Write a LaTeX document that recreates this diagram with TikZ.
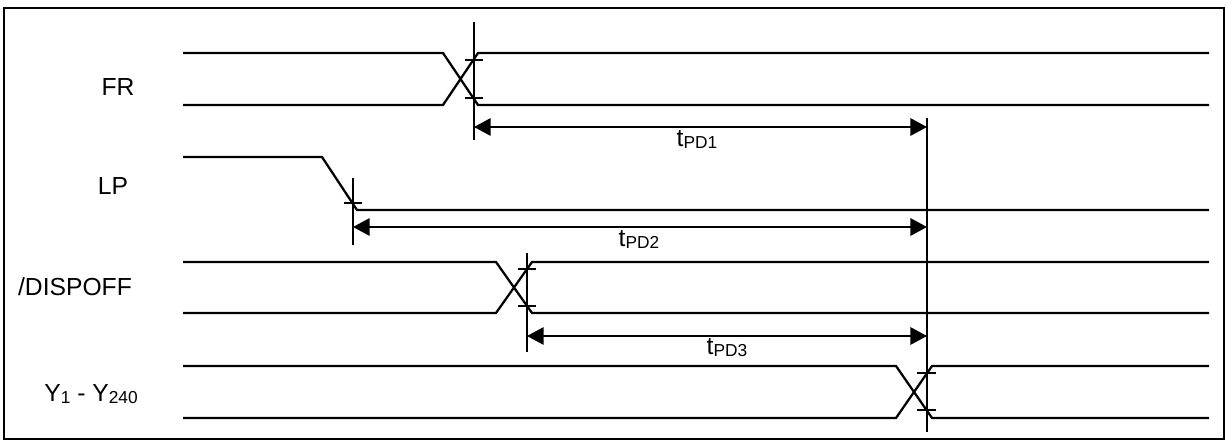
\documentclass[tikz,border=0pt]{standalone}
\usepackage{fontspec}
\setmainfont{Liberation Sans}
\usetikzlibrary{arrows.meta}
\newcommand{\sbs}[1]{\raisebox{-1.5pt}{\fontsize{13}{15}\selectfont #1}}
\begin{document}
\begin{tikzpicture}[x=0.75pt,y=-0.75pt,>={Triangle[length=12.5pt,width=13pt]},line join=miter,line width=1.7pt,font=\fontsize{18.5}{22}\selectfont]
\useasboundingbox (0,0) rectangle (1226,441);
\draw[line width=2pt] (4,8) rectangle (1224,439);
\path (118,87)node(fr){FR} (113,186)node(lp){LP} (75,287)node(dispoff){/DISPOFF} (91,394)node(yout){Y\sbs{1} - Y\sbs{240}};
\draw (183,53)--(443,53)--(478,105)--(1209,105) (183,105)--(443,105)--(478,53)--(1209,53)
(183,157)--(322,157)--(357,210)--(1209,210)
(183,262)--(496,262)--(532,313)--(1209,313) (183,313)--(496,313)--(532,262)--(1209,262)
(183,366)--(896,366)--(932,418)--(1209,418) (183,418)--(896,418)--(932,366)--(1209,366);
\draw (474,22)--(474,140) (465,60)--(483,60) (465,98)--(483,98)
(353,178)--(353,245) (344,203)--(362,203)
(527,253)--(527,352) (518,269)--(536,269) (518,306)--(536,306)
(927,118)--(927,432) (917,373)--(936,373) (917,410)--(936,410);
\coordinate (fr1) at (474,127); \coordinate (fr2) at (927,127);
\coordinate (lp1) at (353,227); \coordinate (lp2) at (927,227);
\coordinate (dp1) at (527,336); \coordinate (dp2) at (927,336);
\draw[<->] (fr1)--(fr2); \draw[<->] (lp1)--(lp2); \draw[<->] (dp1)--(dp2);
\path (697,140)node(tpd1){t\sbs{PD1}} (639,240)node(tpd2){t\sbs{PD2}} (727,348)node(tpd3){t\sbs{PD3}};
\end{tikzpicture}
\end{document}
